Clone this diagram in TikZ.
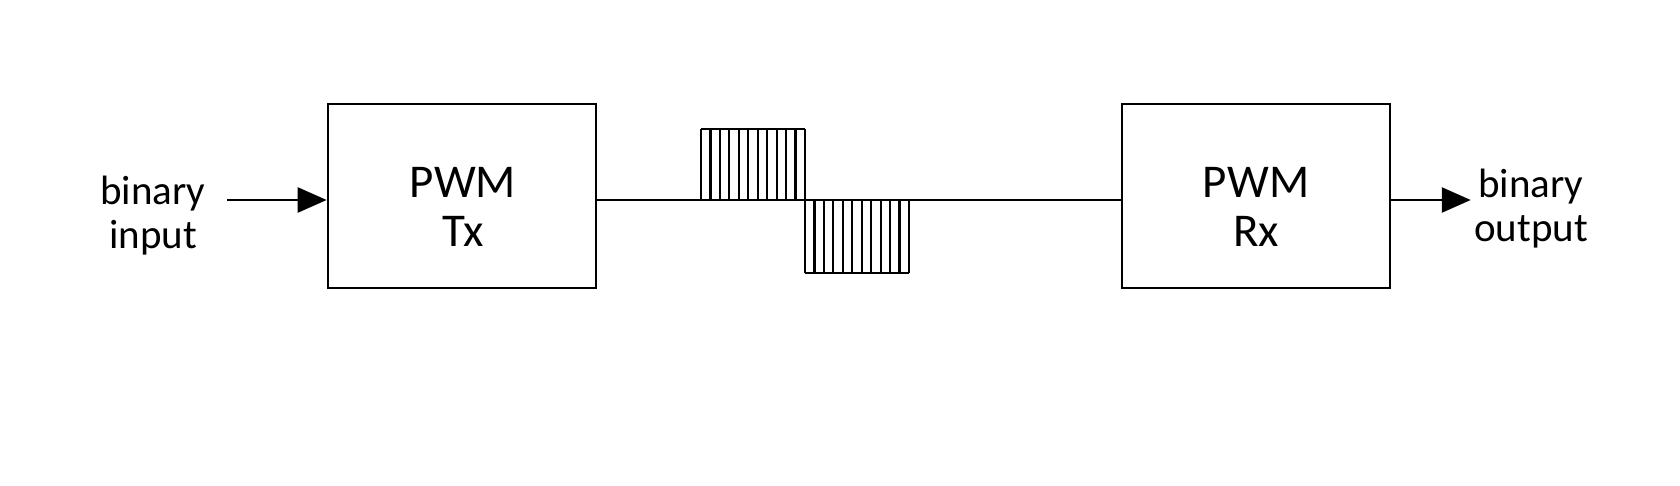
\documentclass[tikz,border=0pt]{standalone}
\usepackage{fontspec}
\setmainfont{Carlito}
\usetikzlibrary{arrows.meta}
\tikzset{
  block/.style={draw, line width=1.3pt, minimum width=134pt, minimum height=92pt, inner sep=0pt},
  blocktext/.style={align=center, inner sep=0pt, font=\fontsize{23.5}{24.5}\selectfont},
  sidetext/.style={align=center, inner sep=0pt, font=\fontsize{20.5}{22}\selectfont},
  sig/.style={line width=1.3pt, -{Triangle[length=14.5pt,width=12.5pt]}},
  pulse/.style={line width=1.1pt}
}
\begin{document}
\begin{tikzpicture}[x=0.5pt,y=-0.5pt]
\useasboundingbox (0,0) rectangle (1680,486);
\pgfmathsetmacro{\w}{104/11}
\coordinate (lvl) at (0,200);
% blocks
\node[block] (tx) at (462,196) {};
\node[block] (rx) at (1256,196) {};
\node[blocktext] (txtext) at (463,207) {PWM\\Tx};
\node[blocktext] (rxtext) at (1256,207) {PWM\\Rx};
\node[sidetext] (in) at (153,216) {binary\\input};
\node[sidetext] (out) at (1531,209) {binary\\output};
% connectors
\draw[sig] ([xshift=10.5pt]in.east |- lvl) -- (tx.west |- lvl);
\draw[sig] (rx.east |- lvl) -- ([xshift=-1.5pt]out.west |- lvl);
\draw[line width=1.3pt] (tx.east |- lvl) -- (rx.west |- lvl);
% pulses
\foreach \k in {0,...,11} {
  \draw[pulse] ({701+\k*\w},129) -- ({701+\k*\w},200);
  \draw[pulse] ({805+\k*\w},200) -- ({805+\k*\w},273);
}
\draw[pulse] (701,129) -- (805,129);
\draw[pulse] (805,273) -- (909,273);
\end{tikzpicture}
\end{document}
